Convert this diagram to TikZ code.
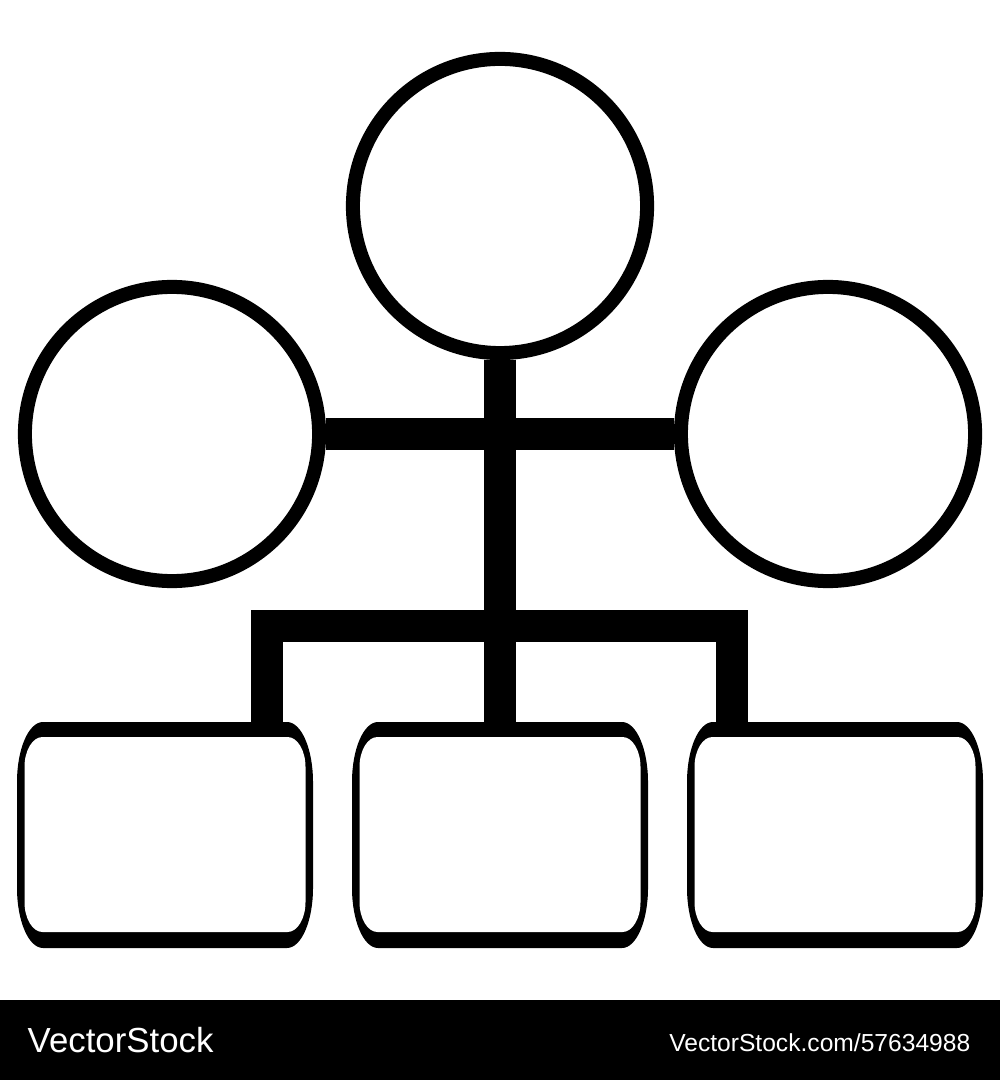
\documentclass[tikz,border=0pt]{standalone}
\usepackage{fontspec}
\setmainfont{Liberation Sans}

\begin{document}
\begin{tikzpicture}[
        x=0.01cm, y=-0.01cm,
        ring/.style={circle, draw, line width=0.14cm, fill=white, inner sep=0pt, minimum size=2.94cm},
        slot/.style={rectangle, inner sep=0pt, outer sep=0pt, minimum width=2.96cm, minimum height=2.26cm},
        bar/.style={line width=0.32cm},
        mark_text/.style={text=white, inner sep=0pt}
    ]
        % Page and bottom strip
        \useasboundingbox (0,0) rectangle (1000,1080);
        \fill[white] (0,0) rectangle (1000,1000);
        \fill[black] (0,1000) rectangle (1000,1080);

        % Circles
        \node[ring] (top) at (500,206) {};
        \node[ring] (left) at (172,434) {};
        \node[ring] (right) at (828,434) {};

        % Boxes
        \node[slot] (box1) at (165,835) {};
        \node[slot] (box2) at (500,835) {};
        \node[slot] (box3) at (835,835) {};

        % Box frames: thick top and bottom, thin sides, soft corners
        \foreach \b in {box1,box2,box3} {
            \begin{scope}[shift={(\b.center)}]
                \fill (-122,-113) -- (122,-113) .. controls (136.4,-113) and (148,-86) .. (148,-53)
                    -- (148,53) .. controls (148,86) and (136.4,113) .. (122,113)
                    -- (-122,113) .. controls (-136.4,113) and (-148,86) .. (-148,53)
                    -- (-148,-53) .. controls (-148,-86) and (-136.4,-113) .. (-122,-113) -- cycle;
                \fill[white] (-122.5,-98) -- (122.5,-98) .. controls (132.4,-98) and (140.5,-84.6) .. (140.5,-68)
                    -- (140.5,67) .. controls (140.5,83.6) and (132.4,97) .. (122.5,97)
                    -- (-122.5,97) .. controls (-132.4,97) and (-140.5,83.6) .. (-140.5,67)
                    -- (-140.5,-68) .. controls (-140.5,-84.6) and (-132.4,-98) .. (-122.5,-98) -- cycle;
            \end{scope}
        }

        % Connect circles
        \draw[bar] (left) -- (right);
        \draw[bar] (top) -- (box2);

        % Fork down to the outer boxes
        \coordinate (fork) at (500,626);
        \draw[bar, line join=miter]
            ([xshift=1.015cm]box1.north) |- (fork) -| ([xshift=-1.025cm]box3.north);

        % Strip texts
        \node[mark_text, anchor=base west, font=\fontsize{9.9pt}{12pt}\selectfont] (brand) at (27,1052) {VectorStock};
        \node[mark_text, anchor=base east, font=\fontsize{7pt}{9pt}\selectfont] (link) at (971,1051) {VectorStock.com/57634988};

    \end{tikzpicture}
\end{document}
